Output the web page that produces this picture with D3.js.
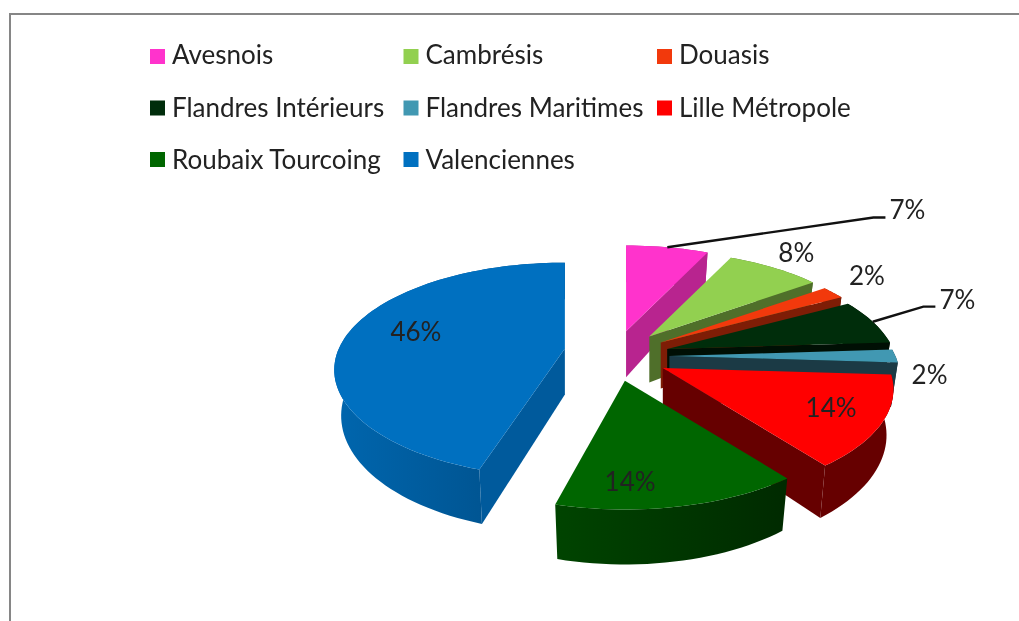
<!DOCTYPE html>
<html>
<head>
<meta charset="utf-8">
<script src="https://cdn.jsdelivr.net/npm/d3@7"></script>
<style>
    html, body { margin: 0; padding: 0; background: #fff; overflow: hidden; }
    /* the original is an upscaled screenshot, a little soft */
    svg { filter: blur(0.5px); }
    text { font-family: Lato, "Open Sans", sans-serif; fill: #222; }
</style>
</head>
<body>
<svg id="chart" width="1019" height="621"></svg>
<script>
const categories = ["Avesnois", "Cambrésis", "Douasis", "Flandres Intérieurs", "Flandres Maritimes", "Lille Métropole", "Roubaix Tourcoing", "Valenciennes"];
const values = [7, 8, 2, 7, 2, 14, 14, 46];

const topColors = ["#ff33cc", "#92d050", "#f2390c", "#002d0b", "#4198b2", "#ff0000", "#006600", "#0070c0"];
const wallColors = ["#b8248f", "#4f6f2a", "#7e1d06", "#000f04", "#1b3a45", "#660000", "#003f00", "#005a9c"];
const rimLight = ["#b8248f", "#4f6f2a", "#7e1d06", "#000f04", "#1b3a45", "#660000", "#004400", "#0066ae"];
const rimDark = ["#b8248f", "#4f6f2a", "#7e1d06", "#000f04", "#1b3a45", "#660000", "#002a00", "#004c84"];

// labels were dragged by hand in the original, so offsets from the default spot
const labelNudge = [[251, -59], [56, -33], [82, -31], [144, -30], [102, 19], [19, 4], [-31, 19], [4, -6]];
const leaderSlices = [0, 3];

const center = {x: 614, y: 356};
const radiusX = 226, radiusY = 103;
const perspective = 0.2;
const depth = 44;
const apexDepth = 46;
const bottomScale = 0.97;
const explodes = [0.245, 0.245, 0.245, 0.245, 0.245, 0.245, 0.245, 0.22];
const apexLift = [0, 0, 0, 0, 0, 0, 0, 4];
const labelRadius = 0.7;

const svg = d3.select('#chart');

// frame runs off the right and bottom of the shot
svg.append('path')
    .attr('d', 'M10,621V14H1019')
    .attr('fill', 'none')
    .attr('stroke', '#868686')
    .attr('stroke-width', 2);

const pie = d3.pie().sort(null).value(d => d);
const slices = pie(values);

// the front cuts sit a little off in the original's projection
slices[5].endAngle -= 0.02;
slices[6].startAngle -= 0.02;
slices[7].startAngle += 0.06;

function local(angle, r) {
    const x = r * Math.sin(angle);
    const y = -r * Math.cos(angle);
    const p = 1 / (1 - perspective * y);
    return {x: radiusX * x * p, y: radiusY * y * p, p: p};
}

function apexOf(slice) {
    const mid = (slice.startAngle + slice.endAngle) / 2;
    return {
        x: center.x + radiusX * explodes[slice.index] * Math.sin(mid),
        y: center.y - radiusY * explodes[slice.index] * Math.cos(mid) - apexLift[slice.index]
    };
}

function topPoint(apex, angle, r) {
    const q = local(angle, r);
    return [apex.x + q.x, apex.y + q.y];
}

function bottomPoint(apex, angle, r) {
    const q = local(angle, r);
    const d = r === 0 ? apexDepth : depth * q.p;
    return [apex.x + q.x * bottomScale, apex.y + q.y + d];
}

const line = d3.line().curve(d3.curveLinear);
const defs = svg.append('defs');
const pieGroup = svg.append('g');

slices.forEach((slice, i) => {
    const apex = apexOf(slice);
    const steps = Math.max(8, Math.round((slice.endAngle - slice.startAngle) * 30));
    const angles = d3.range(steps + 1).map(k => slice.startAngle + (slice.endAngle - slice.startAngle) * k / steps);

    const topArc = angles.map(a => topPoint(apex, a, 1));
    const bottomArc = angles.map(a => bottomPoint(apex, a, 1));

    const grad = defs.append('linearGradient').attr('id', `rim${i}`);
    grad.append('stop').attr('offset', '0%').attr('stop-color', rimLight[i]);
    grad.append('stop').attr('offset', '100%').attr('stop-color', rimDark[i]);

    const g = pieGroup.append('g').attr('class', 'slice');

    g.append('path')
        .attr('d', line(topArc.concat(bottomArc.slice().reverse())) + 'Z')
        .attr('fill', `url(#rim${i})`);

    // only the cut faces turned towards the viewer
    const cuts = [];
    if (-Math.sin(slice.startAngle) > 1e-6) cuts.push(slice.startAngle);
    if (Math.sin(slice.endAngle) > 1e-6) cuts.push(slice.endAngle);

    cuts.forEach(a => {
        g.append('path')
            .attr('d', line([
                [apex.x, apex.y],
                topPoint(apex, a, 1),
                bottomPoint(apex, a, 1),
                bottomPoint(apex, a, 0)
            ]) + 'Z')
            .attr('fill', wallColors[i]);
    });

    g.append('path')
        .attr('d', line([[apex.x, apex.y]].concat(topArc)) + 'Z')
        .attr('fill', topColors[i]);
});

// percent labels
const total = d3.sum(values);
const labelFormat = d3.format('.0%');

slices.forEach((slice, i) => {
    const apex = apexOf(slice);
    const mid = (slice.startAngle + slice.endAngle) / 2;
    const anchor = topPoint(apex, mid, labelRadius);
    const lx = anchor[0] + labelNudge[i][0];
    const ly = anchor[1] + labelNudge[i][1];

    if (leaderSlices.includes(i)) {
        svg.append('path')
            .attr('d', line([topPoint(apex, mid, 1), [lx - 34, ly + 7], [lx - 22, ly + 7]]))
            .attr('fill', 'none')
            .attr('stroke', '#111')
            .attr('stroke-width', 2.4);
    }

    svg.append('text')
        .attr('x', lx)
        .attr('y', ly + 9)
        .attr('text-anchor', 'middle')
        .style('font-size', '26px')
        .text(labelFormat(values[i] / total));
});

// legend, three columns
const legendCols = d3.scalePoint().domain([0, 1, 2]).range([150, 657]);
const legendRows = d3.scalePoint().domain([0, 1, 2]).range([49, 152]);

const legend = svg.selectAll('.legendItem')
    .data(categories)
    .join('g')
    .classed('legendItem', true)
    .attr('transform', (d, i) => `translate(${legendCols(i % 3)}, ${legendRows(Math.floor(i / 3))})`);

legend.append('rect')
    .attr('width', 15)
    .attr('height', 15)
    .attr('fill', (d, i) => topColors[i]);

legend.append('text')
    .attr('x', 22)
    .attr('y', (d, i) => 15 + Math.floor(i / 3))
    .style('font-size', '26px')
    .text(d => d);
</script>
</body>
</html>
